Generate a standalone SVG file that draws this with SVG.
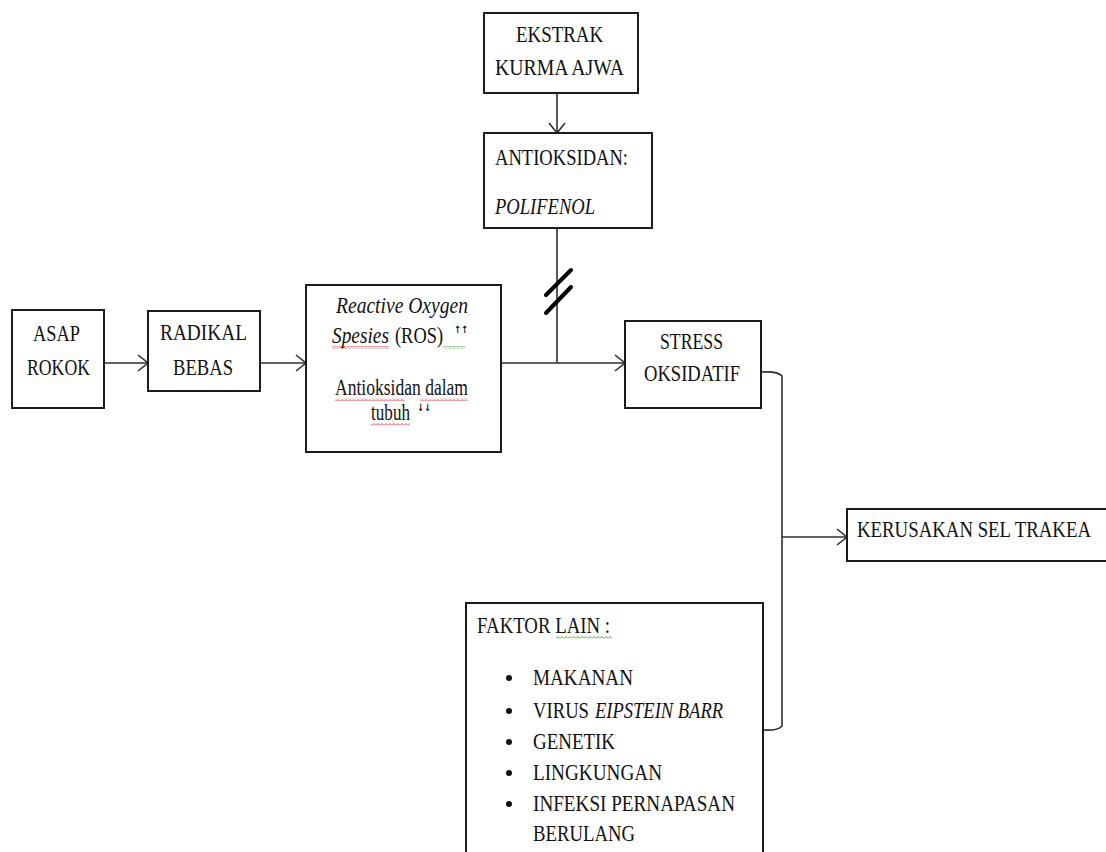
<svg xmlns="http://www.w3.org/2000/svg" width="1106" height="852" viewBox="0 0 1106 852">
  <style>
    .box { fill: #ffffff; stroke: #1c1c1c; stroke-width: 2; }
    .line { fill: none; stroke: #2e2e2e; stroke-width: 1.6; }
    .t { font-family: "Liberation Serif", "Times New Roman", serif; font-size: 24px; fill: #111111; }
    .i { font-style: italic; }
    .sup { font-family: "DejaVu Sans", sans-serif; font-size: 10px; font-weight: bold; fill: #111111; }
    .slash { stroke: #000000; stroke-width: 4; stroke-linecap: round; }
  </style>
  <defs>
    <marker id="arrow" viewBox="0 0 12 18" refX="11" refY="9" markerWidth="12" markerHeight="18" markerUnits="userSpaceOnUse" orient="auto">
      <path d="M1 1 L11 9 L1 17" fill="none" stroke="#2e2e2e" stroke-width="1.6"/>
    </marker>
    <pattern id="wavyRed" width="4" height="3" patternUnits="userSpaceOnUse">
      <polyline points="0,2.5 2,0.5 4,2.5" fill="none" stroke="#e03030" stroke-width="0.9"/>
    </pattern>
    <pattern id="wavyGreen" width="4" height="3" patternUnits="userSpaceOnUse">
      <polyline points="0,2.5 2,0.5 4,2.5" fill="none" stroke="#30a030" stroke-width="0.9"/>
    </pattern>
  </defs>

  <rect width="1106" height="852" fill="#ffffff"/>

  <!-- connectors -->
  <g id="connectors">
    <line class="line" x1="104" y1="363" x2="148" y2="363" marker-end="url(#arrow)"/>
    <line class="line" x1="260" y1="363" x2="306" y2="363" marker-end="url(#arrow)"/>
    <line class="line" x1="501" y1="363" x2="625" y2="363" marker-end="url(#arrow)"/>
    <line class="line" x1="557" y1="93" x2="557" y2="133" marker-end="url(#arrow)"/>
    <line class="line" x1="557" y1="228" x2="557" y2="363"/>
    <line class="slash" x1="546" y1="313" x2="571" y2="287"/>
    <line class="slash" x1="546" y1="295" x2="571" y2="270"/>
    <path class="line" d="M761 372 Q778 371 782 376 L782 726 Q778 731 763 730"/>
    <line class="line" x1="782" y1="537" x2="847" y2="537" marker-end="url(#arrow)"/>
  </g>

  <g id="ekstrak">
    <rect class="box" x="484" y="13" width="154" height="80"/>
    <text class="t" x="516" y="42" textLength="87" lengthAdjust="spacingAndGlyphs">EKSTRAK</text>
    <text class="t" x="495" y="75" textLength="129" lengthAdjust="spacingAndGlyphs">KURMA AJWA</text>
  </g>

  <g id="antioksidan">
    <rect class="box" x="484" y="133" width="168" height="95"/>
    <text class="t" x="495" y="165" textLength="133" lengthAdjust="spacingAndGlyphs">ANTIOKSIDAN:</text>
    <text class="t i" x="495" y="214" textLength="100" lengthAdjust="spacingAndGlyphs">POLIFENOL</text>
  </g>

  <g id="asap">
    <rect class="box" x="12" y="310" width="92" height="98"/>
    <text class="t" x="33" y="341" textLength="47" lengthAdjust="spacingAndGlyphs">ASAP</text>
    <text class="t" x="27" y="375" textLength="63" lengthAdjust="spacingAndGlyphs">ROKOK</text>
  </g>

  <g id="radikal">
    <rect class="box" x="148" y="311" width="112" height="80"/>
    <text class="t" x="160" y="340" textLength="87" lengthAdjust="spacingAndGlyphs">RADIKAL</text>
    <text class="t" x="173" y="375" textLength="60" lengthAdjust="spacingAndGlyphs">BEBAS</text>
  </g>

  <g id="ros">
    <rect class="box" x="306" y="285" width="195" height="167"/>
    <text class="t i" x="336" y="313" textLength="132" lengthAdjust="spacingAndGlyphs">Reactive Oxygen</text>
    <text class="t i" x="332" y="343" textLength="57" lengthAdjust="spacingAndGlyphs">Spesies</text>
    <text class="t" x="395" y="343" textLength="48" lengthAdjust="spacingAndGlyphs">(ROS)</text>
    <text class="sup" x="454" y="333" textLength="14" lengthAdjust="spacingAndGlyphs">↑↑</text>
    <rect x="332" y="346" width="57" height="3" fill="url(#wavyRed)"/>
    <rect x="443" y="346" width="22" height="3" fill="url(#wavyGreen)"/>
    <text class="t" x="335" y="395" textLength="133" lengthAdjust="spacingAndGlyphs">Antioksidan dalam</text>
    <rect x="335" y="398" width="70" height="3" fill="url(#wavyRed)"/>
    <rect x="420" y="398" width="48" height="3" fill="url(#wavyRed)"/>
    <text class="t" x="371" y="420" textLength="39" lengthAdjust="spacingAndGlyphs">tubuh</text>
    <rect x="371" y="423" width="39" height="3" fill="url(#wavyRed)"/>
    <text class="sup" x="417" y="411" textLength="14" lengthAdjust="spacingAndGlyphs">↓↓</text>
  </g>

  <g id="stress">
    <rect class="box" x="625" y="321" width="136" height="87"/>
    <text class="t" x="660" y="349" textLength="63" lengthAdjust="spacingAndGlyphs">STRESS</text>
    <text class="t" x="644" y="381" textLength="96" lengthAdjust="spacingAndGlyphs">OKSIDATIF</text>
  </g>

  <g id="kerusakan">
    <rect class="box" x="847" y="509" width="270" height="52"/>
    <text class="t" x="857" y="537" textLength="234" lengthAdjust="spacingAndGlyphs">KERUSAKAN SEL TRAKEA</text>
  </g>

  <g id="faktor">
    <rect class="box" x="466" y="603" width="297" height="270"/>
    <text class="t" x="477" y="633" textLength="133" lengthAdjust="spacingAndGlyphs">FAKTOR LAIN :</text>
    <rect x="556" y="636" width="56" height="3" fill="url(#wavyGreen)"/>
    <g fill="#111111">
      <circle cx="509" cy="678" r="3"/>
      <circle cx="509" cy="711" r="3"/>
      <circle cx="509" cy="742" r="3"/>
      <circle cx="509" cy="773" r="3"/>
      <circle cx="509" cy="804" r="3"/>
    </g>
    <text class="t" x="533" y="685" textLength="100" lengthAdjust="spacingAndGlyphs">MAKANAN</text>
    <text class="t" x="533" y="718" textLength="56" lengthAdjust="spacingAndGlyphs">VIRUS</text>
    <text class="t i" x="595" y="718" textLength="128" lengthAdjust="spacingAndGlyphs">EIPSTEIN BARR</text>
    <text class="t" x="533" y="749" textLength="82" lengthAdjust="spacingAndGlyphs">GENETIK</text>
    <text class="t" x="533" y="780" textLength="129" lengthAdjust="spacingAndGlyphs">LINGKUNGAN</text>
    <text class="t" x="533" y="811" textLength="202" lengthAdjust="spacingAndGlyphs">INFEKSI PERNAPASAN</text>
    <text class="t" x="533" y="841" textLength="102" lengthAdjust="spacingAndGlyphs">BERULANG</text>
  </g>
</svg>
